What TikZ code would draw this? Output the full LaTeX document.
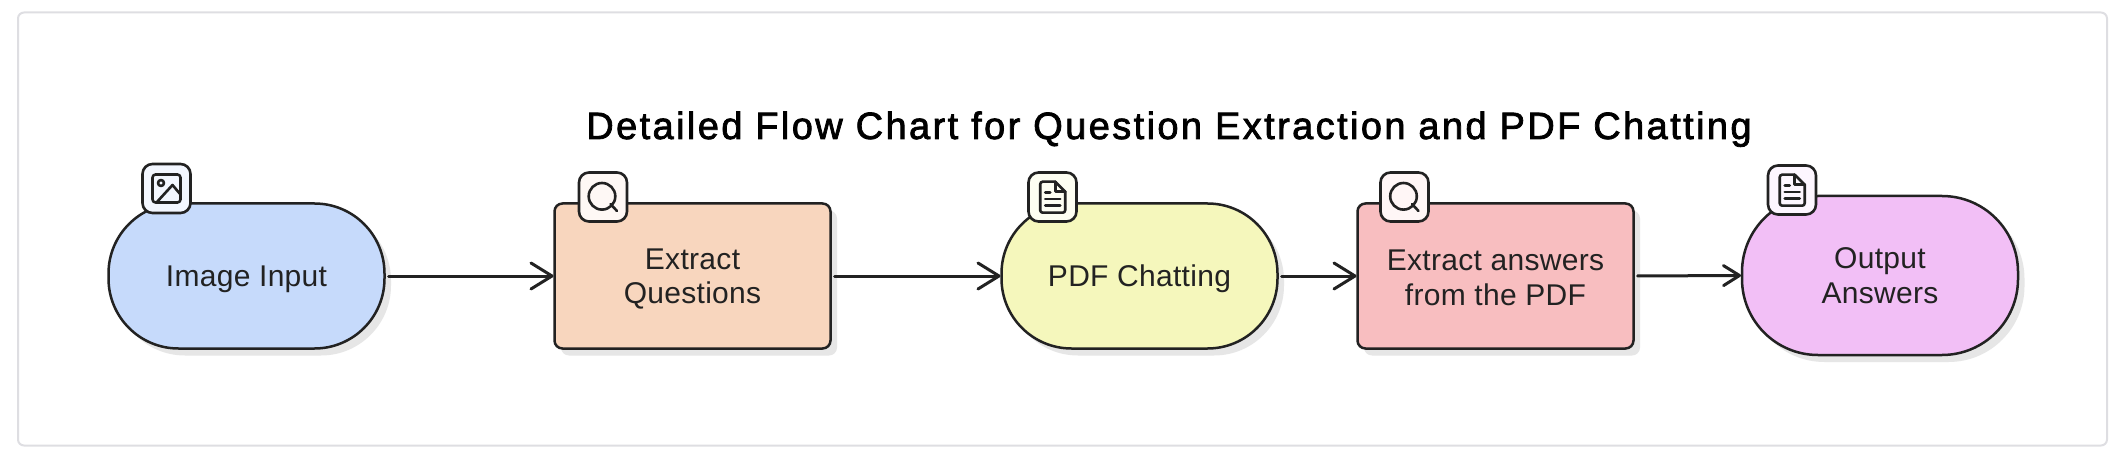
\documentclass[tikz,border=0pt]{standalone}
\usepackage{fontspec}
\usetikzlibrary{arrows.meta,shadows}
\newfontfamily\bodyfont[LetterSpace=1.0]{Liberation Sans}
\newfontfamily\titlefont[LetterSpace=6.3,FakeBold=2]{Liberation Sans}
\newcommand{\lowerline}[1]{\rule{0pt}{#1pt}}
\definecolor{ink}{HTML}{222222}
\definecolor{framecol}{HTML}{DEDEE2}
\definecolor{shadowcol}{HTML}{E6E6E6}
\definecolor{fillA}{HTML}{C6DAFB}
\definecolor{fillB}{HTML}{F8D6BE}
\definecolor{fillC}{HTML}{F5F7BC}
\definecolor{fillD}{HTML}{F8BEC0}
\definecolor{fillE}{HTML}{F2BFF6}
\definecolor{tintA}{HTML}{F3F7FF}
\definecolor{tintB}{HTML}{FEF8F5}
\definecolor{tintC}{HTML}{FDFEF2}
\definecolor{tintD}{HTML}{FFF6F6}
\definecolor{tintE}{HTML}{FDF6FF}
\tikzset{
  basebox/.style={draw=ink,line width=2.5pt,outer sep=0pt,inner sep=0pt,align=center,
    text=ink,font=\bodyfont\fontsize{30}{34.5}\selectfont,
    drop shadow={shadow xshift=6.5pt,shadow yshift=-7pt,fill=shadowcol,opacity=1}},
  softbox/.style={basebox,minimum width=276pt,minimum height=145pt,rounded corners=70pt},
  softtall/.style={basebox,minimum width=276pt,minimum height=159pt,rounded corners=76pt},
  sharpbox/.style={basebox,minimum width=276pt,minimum height=145pt,rounded corners=8pt},
  iconbox/.style={draw=ink,line width=2.6pt,minimum width=48pt,minimum height=49pt,rounded corners=10pt,inner sep=0pt,outer sep=0pt},
  glyph/.style={draw=ink,line width=2.6pt,line cap=round,line join=round},
  flow/.style={draw=ink,line width=3pt,line cap=round,shorten <=4pt,shorten >=1pt,
    -{Straight Barb[length=21pt,width=26pt,line width=3pt,round]}},
  flowsmall/.style={flow,-{Straight Barb[length=16pt,width=20pt,line width=3pt,round]}},
  pics/imgicon/.style={code={
    \draw[glyph,rounded corners=3pt] (-14,-14) rectangle (14,14);
    \draw[glyph] (-5.5,-5.5) circle (3);
    \draw[glyph] (-10,14) -- (6,-3.5) -- (14,6);
  }},
  pics/lensicon/.style={code={
    \draw[glyph] (-1,-0.7) circle (13.3);
    \draw[glyph] (7.5,7) -- (14,14);
  }},
  pics/docicon/.style={code={
    \draw[glyph,rounded corners=2.5pt] (2.7,-15.3) -- (-12.3,-15.3) -- (-12.3,15.7) -- (12.7,15.7) -- (12.7,-5.3);
    \draw[glyph] (2.7,-15.3) -- (12.7,-5.3);
    \draw[glyph] (2.7,-15.3) -- (2.7,-5.3) -- (12.7,-5.3);
    \draw[glyph] (-7.3,-4.7) -- (-2.3,-4.7);
    \draw[glyph] (-7.3,2) -- (7.7,2);
    \draw[glyph] (-7.3,8.7) -- (7.7,8.7);
  }},
}
\begin{document}
\begin{tikzpicture}[x=1pt,y=-1pt]
\useasboundingbox (0,0) rectangle (2128,465);
\node[draw=framecol,line width=2pt,fill=white,rounded corners=6pt,minimum width=2089pt,minimum height=433pt,outer sep=0pt] (frame) at (1062.5,229) {};
\node[anchor=base,font=\titlefont\fontsize{38}{40}\selectfont,text=black,inner sep=0pt] (title) at (1169,139) {Detailed Flow Chart for Question Extraction and PDF Chatting};
\node[softbox,fill=fillA] (n1) at (246.5,276) {\lowerline{27}Image Input};
\node[sharpbox,fill=fillB] (n2) at (692.5,276) {\lowerline{27}Extract\\Questions};
\node[softbox,fill=fillC] (n3) at (1139.5,276) {\lowerline{27}PDF Chatting};
\node[sharpbox,fill=fillD] (n4) at (1495.5,276) {\lowerline{24}Extract answers\\from the PDF};
\node[softtall,fill=fillE] (n5) at (1880,275.5) {Output\\Answers};
\draw[flow] (n1.east) -- (n2.west);
\draw[flow] (n2.east) -- (n3.west);
\draw[flow] (n3.east) -- (n4.west);
\draw[flowsmall] (n4.east) -- (n5.west);
\node[iconbox,fill=tintA] (i1) at (166.5,188.5) {};
\pic at (i1.center) {imgicon};
\node[iconbox,fill=tintB] (i2) at (603,197) {};
\pic at (i2.center) {lensicon};
\node[iconbox,fill=tintC] (i3) at (1052.5,197) {};
\pic at (i3.center) {docicon};
\node[iconbox,fill=tintD] (i4) at (1404.5,197) {};
\pic at (i4.center) {lensicon};
\node[iconbox,fill=tintE] (i5) at (1792,190) {};
\pic at (i5.center) {docicon};
\end{tikzpicture}
\end{document}
